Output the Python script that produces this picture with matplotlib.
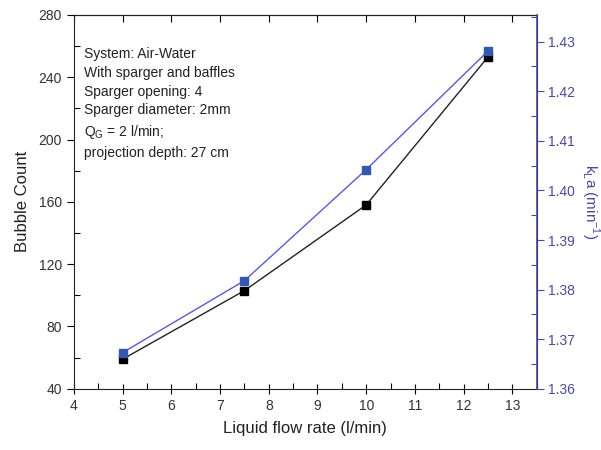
import matplotlib
matplotlib.use("Agg")
import matplotlib.pyplot as plt
from matplotlib.ticker import MultipleLocator

plt.rcParams['font.family'] = ['Liberation Sans', 'DejaVu Sans']
plt.rcParams['mathtext.fontset'] = 'custom'
plt.rcParams['mathtext.rm'] = 'Liberation Sans'

flow = [5, 7.5, 10, 12.5]
bubble_count = [59, 103, 158, 253]
kla = [1.3673, 1.3818, 1.4042, 1.4281]

x_ticks = [4, 5, 6, 7, 8, 9, 10, 11, 12, 13]
left_ticks = [40, 80, 120, 160, 200, 240, 280]
right_ticks = [1.36, 1.37, 1.38, 1.39, 1.40, 1.41, 1.42, 1.43]

annot = ["System: Air-Water", "With sparger and baffles", "Sparger opening: 4",
         "Sparger diameter: 2mm", r"Q$_\mathregular{G}$ = 2 l/min;", "projection depth: 27 cm"]

blue_axis = '#4a4a9c'
blue_line = '#5a5ad0'
blue_mark = '#3458b0'
tick_col = '#333333'

fig = plt.figure(figsize=(6.01, 4.5), dpi=100)
ax = fig.add_axes([0.123, 0.136, 0.770, 0.831])
ax2 = ax.twinx()

ax.plot(flow, bubble_count, color='#222222', lw=1.0, marker='s', ms=6,
        markerfacecolor='black', markeredgecolor='black', zorder=3)
ax2.plot(flow, kla, color=blue_line, lw=1.0, marker='s', ms=6,
         markerfacecolor=blue_mark, markeredgecolor=blue_mark, zorder=3)

ax.set_xlim(4, 13.5)
ax.set_ylim(40, 280)
ax2.set_ylim(1.36, 1.4354)

ax.set_xticks(x_ticks)
ax.set_yticks(left_ticks)
ax2.set_yticks(right_ticks)
ax2.set_yticklabels([f"{v:.2f}" for v in right_ticks])
ax.xaxis.set_minor_locator(MultipleLocator(0.5))
ax.yaxis.set_minor_locator(MultipleLocator(20))
ax2.yaxis.set_minor_locator(MultipleLocator(0.005))

ax.tick_params(axis='x', which='major', direction='inout', length=7, width=0.8,
               labelsize=10, labelcolor=tick_col, top=False)
ax.tick_params(axis='x', which='minor', direction='in', length=4, width=0.8, top=False)
ax.tick_params(axis='y', which='major', direction='out', length=5, width=0.8,
               labelsize=10, labelcolor=tick_col, right=False)
ax.tick_params(axis='y', which='minor', direction='in', length=4, width=0.8, right=False)

top = ax.secondary_xaxis('top')
top.set_xticks(x_ticks)
top.tick_params(axis='x', which='major', direction='in', length=5, width=0.8,
                labeltop=False)
top.spines['top'].set_color('#222222')
top.spines['top'].set_linewidth(0.8)

ax2.tick_params(axis='y', which='major', direction='out', length=5, width=0.8,
                labelsize=10, colors=blue_axis)
ax2.tick_params(axis='y', which='minor', direction='in', length=4, width=0.8,
                colors=blue_axis)

for s in ['left', 'bottom', 'top']:
    ax.spines[s].set_color('#222222')
    ax.spines[s].set_linewidth(0.8)
ax2.spines['right'].set_color(blue_axis)
ax2.spines['right'].set_linewidth(1.2)
ax2.spines['left'].set_visible(False)
ax2.spines['top'].set_visible(False)
ax2.spines['bottom'].set_visible(False)

ax.set_xlabel("Liquid flow rate (l/min)", fontsize=12, color='#222222', labelpad=6)
ax.set_ylabel("Bubble Count", fontsize=12, color='#222222', labelpad=6)
ax2.set_ylabel(r"k$_\mathregular{L}$a (min$^\mathregular{-1}$)", fontsize=11,
               color=blue_axis, rotation=270, va='center')
ax2.yaxis.set_label_coords(1.115, 0.5)

ax.text(0.022, 0.915, "\n".join(annot), transform=ax.transAxes, fontsize=10,
        color='#222222', va='top', ha='left', linespacing=1.45)

fig.savefig("out.png", dpi=100)
